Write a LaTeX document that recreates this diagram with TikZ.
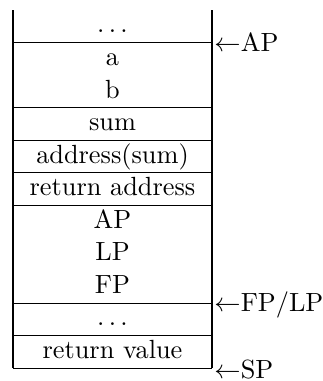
\documentclass[tikz,border=0pt]{standalone}
\begin{document}
\begin{tikzpicture}[x=0.3802pt,y=-0.3802pt,
  cell/.style={anchor=base,inner sep=0pt,outer sep=0pt},
  ptr/.style={anchor=base west,inner sep=0pt,outer sep=0pt},
  rule/.style={line width=0.4pt}]
\useasboundingbox (0,0) rectangle (323,381);
% cell texts (baselines)
\node[cell] (r0) at (112.5,32.9) {$\ldots$};
\node[cell] (r1) at (112.5,65.5) {a};
\node[cell] (r2) at (112.5,98.0) {b};
\node[cell] (r3) at (112.5,130.6) {sum};
\node[cell] (r4) at (112.5,163.1) {address(sum)};
\node[cell] (r5) at (112.5,195.7) {return address};
\node[cell] (r6) at (112.5,228.3) {AP};
\node[cell] (r7) at (112.5,260.8) {LP};
\node[cell] (r8) at (112.5,293.4) {FP};
\node[cell] (r9) at (112.5,325.9) {$\ldots$};
\node[cell] (r10) at (112.5,358.5) {return value};
% pointer labels
\node[ptr] (ap) at (214.5,51.3) {$\leftarrow$AP};
\node[ptr] (fplp) at (214.5,311.3) {$\leftarrow$FP/LP};
\node[ptr] (sp) at (214.5,378.3) {$\leftarrow$SP};
% table rules
\draw[rule] (13,10.1) -- (13,368.3);
\draw[rule] (212,10.1) -- (212,368.3);
\foreach \yy in {42.66,107.78,140.34,172.9,205.46,303.14,335.7,368.26}
  \draw[rule] (13,\yy) -- (212,\yy);
\end{tikzpicture}
\end{document}
